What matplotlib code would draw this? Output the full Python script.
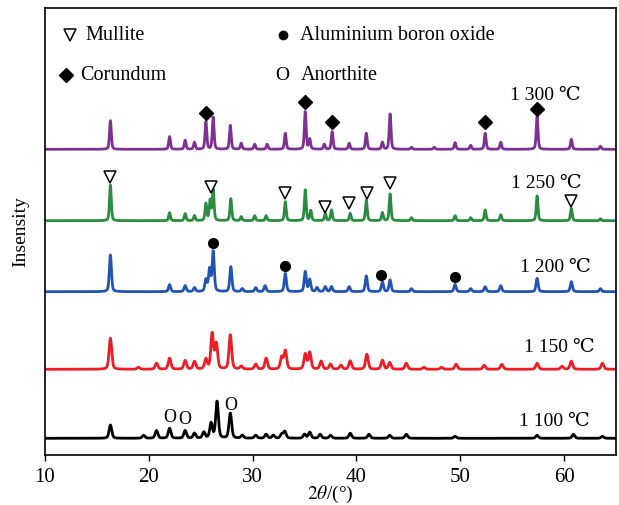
import numpy as np
import matplotlib
matplotlib.use("Agg")
import matplotlib.pyplot as plt

plt.rcParams['font.family'] = ['Liberation Serif', 'DejaVu Serif']
plt.rcParams['mathtext.fontset'] = 'stix'

# peak positions (2theta) and heights, per sample
pos_1300 = [16.3, 22.0, 23.5, 24.4, 25.5, 26.2, 27.85, 28.9, 30.2, 31.4, 33.15, 35.07, 35.5,
            36.9, 37.66, 39.3, 40.95, 42.5, 43.24, 45.3, 47.5, 49.5, 51.0, 52.4, 53.9, 57.4, 60.7, 63.5]
h_1300 = [28.6, 12.7, 9, 7, 27.6, 32, 24, 6, 5, 5, 16, 37.7, 10,
          5, 17.6, 6, 16, 7, 35.3, 2, 2, 6.7, 4, 16, 7, 32.7, 10, 3]

pos_1250 = [16.3, 22.0, 23.5, 24.4, 25.5, 25.9, 26.2, 27.9, 28.9, 30.2, 31.3, 33.15, 35.07, 35.6,
            37.0, 37.6, 39.4, 40.95, 42.5, 43.24, 45.3, 49.5, 51.0, 52.4, 53.9, 57.4, 60.7, 63.5]
h_1250 = [35.7, 8, 7, 5, 17, 20, 30.7, 22, 4, 5, 5, 19, 31, 10,
          7, 10.7, 7.3, 20.7, 8, 26.7, 3, 5, 3, 10.7, 6, 24.7, 12.3, 2]

pos_1200 = [16.3, 22.0, 23.5, 24.4, 25.5, 25.85, 26.2, 27.9, 29.0, 30.3, 31.2, 33.15, 35.07, 35.5,
            36.2, 37.0, 37.6, 39.3, 40.95, 42.5, 43.24, 45.3, 49.5, 51.0, 52.4, 53.9, 57.4, 60.7, 63.5]
h_1200 = [36.7, 7, 6, 4, 11.7, 22, 40, 25, 3, 4, 6, 18.3, 20, 12,
          4, 5, 5, 5, 15.7, 10, 11.7, 3, 7.3, 3, 5, 6, 13.3, 10, 3]

pos_1150 = [16.3, 19.0, 20.74, 22.0, 23.5, 24.4, 25.5, 26.1, 26.5, 27.85, 28.9, 30.3, 31.3, 32.8,
            33.15, 35.07, 35.5, 36.6, 37.5, 38.5, 39.4, 41.0, 42.5, 43.2, 44.8, 46.5, 48.2, 49.6,
            52.3, 54.0, 57.4, 59.8, 60.7, 63.7]
h_1150 = [31, 2, 6, 11, 8.7, 7.7, 10, 35.3, 25, 34.3, 3, 5, 11, 12,
          18.3, 15, 16.7, 8, 5, 4, 8.3, 15, 9, 6.7, 6, 2, 2, 5,
          4, 5, 6, 3, 8, 6]

pos_1100 = [16.3, 19.5, 20.74, 22.0, 23.5, 24.4, 25.3, 26.0, 26.57, 27.85, 29.0, 30.3, 31.3, 32.0,
            32.8, 33.1, 35.0, 35.5, 36.5, 37.5, 39.4, 41.2, 43.2, 44.8, 49.5, 57.4, 60.9, 63.7]
h_1100 = [13.3, 3, 7.7, 10, 7.7, 5, 6, 15, 36.7, 25, 3, 3, 4, 3,
          4, 6.7, 4, 6, 4, 3, 5, 4, 3, 4, 2, 3, 4, 2]

labels = ['1 300 ℃', '1 250 ℃', '1 200 ℃', '1 150 ℃', '1 100 ℃']
baselines = [305.7, 234.3, 163.3, 85.7, 16.7]
widths = [0.2, 0.2, 0.24, 0.3, 0.3]
colors = ['#7f3193', '#2a8c3f', '#2154b4', '#ee1c24', '#000000']
peaks = [(pos_1300, h_1300), (pos_1250, h_1250), (pos_1200, h_1200),
         (pos_1150, h_1150), (pos_1100, h_1100)]
label_x = [58.2, 58.3, 59.2, 59.5, 59.1]
label_y = [360, 272, 187, 108, 34]

# phase markers
mullite_x = [16.3, 26.0, 33.15, 37.0, 39.3, 41.0, 43.24, 60.7]
mullite_y = [277.7, 267.7, 261.7, 248.3, 251.7, 261.7, 272.3, 254.3]
corundum_x = [25.5, 35.07, 37.66, 52.4, 57.4]
corundum_y = [342.3, 353.3, 332.7, 333.3, 345.7]
alb_x = [26.2, 33.15, 42.4, 49.5]
alb_y = [211.7, 189.3, 180, 178.3]
anorth_x = [22.0, 23.5, 27.85]
anorth_y = [37.7, 35.7, 50]

x = np.arange(10, 65.01, 0.02)


def pattern(pos, h, w):
    y = np.zeros_like(x)
    for p, a in zip(pos, h):
        g = np.exp(-4 * np.log(2) * ((x - p) / w) ** 2)
        l = 1 / (1 + 4 * ((x - p) / w) ** 2)
        y += a * (0.6 * g + 0.4 * l)
    return y


fig = plt.figure(figsize=(6.19, 5.05), dpi=100)
ax = fig.add_axes([45 / 619, 50 / 505, 571 / 619, 447 / 505])

for (pos, h), b, w, c, lab, lx, ly in zip(peaks, baselines, widths, colors, labels, label_x, label_y):
    ax.plot(x, b + pattern(pos, h, w), color=c, lw=2)
    ax.text(lx, ly, lab, ha='center', va='center', fontsize=14)

ax.plot(mullite_x, mullite_y, 'v', ms=9, mfc='white', mec='black', mew=1.1, ls='none')
ax.plot(corundum_x, corundum_y, 'D', ms=7, color='black', ls='none')
ax.plot(alb_x, alb_y, 'o', ms=7, color='black', ls='none')
for ox, oy in zip(anorth_x, anorth_y):
    ax.text(ox, oy, 'O', ha='center', va='center', fontsize=13)

# legend drawn by hand
ax.plot([12.4], [420], 'v', ms=9, mfc='white', mec='black', mew=1.1)
ax.text(13.9, 420, 'Mullite', va='center', fontsize=14.5)
ax.plot([32.9], [420], 'o', ms=6, color='black')
ax.text(34.6, 420, 'Aluminium boron oxide', va='center', fontsize=14.5)
ax.plot([12.0], [380], 'D', ms=7, color='black')
ax.text(13.4, 380, 'Corundum', va='center', fontsize=14.5)
ax.text(32.9, 380, 'O', ha='center', va='center', fontsize=14)
ax.text(34.6, 380, 'Anorthite', va='center', fontsize=14.5)

ax.set_xlim(10, 65)
ax.set_ylim(0, 447)
ax.set_xticks([10, 20, 30, 40, 50, 60])
ax.set_yticks([])
ax.tick_params(axis='x', direction='out', length=4, width=1, labelsize=15, pad=5)
for s in ax.spines.values():
    s.set_linewidth(1.2)
ax.set_xlabel('$2\\theta$/(°)', fontsize=14)
ax.xaxis.set_label_coords(0.5, -0.065)
ax.set_ylabel('Insensity', fontsize=14)
ax.yaxis.set_label_coords(-0.028, 0.5)

fig.savefig('out.png', dpi=100)
